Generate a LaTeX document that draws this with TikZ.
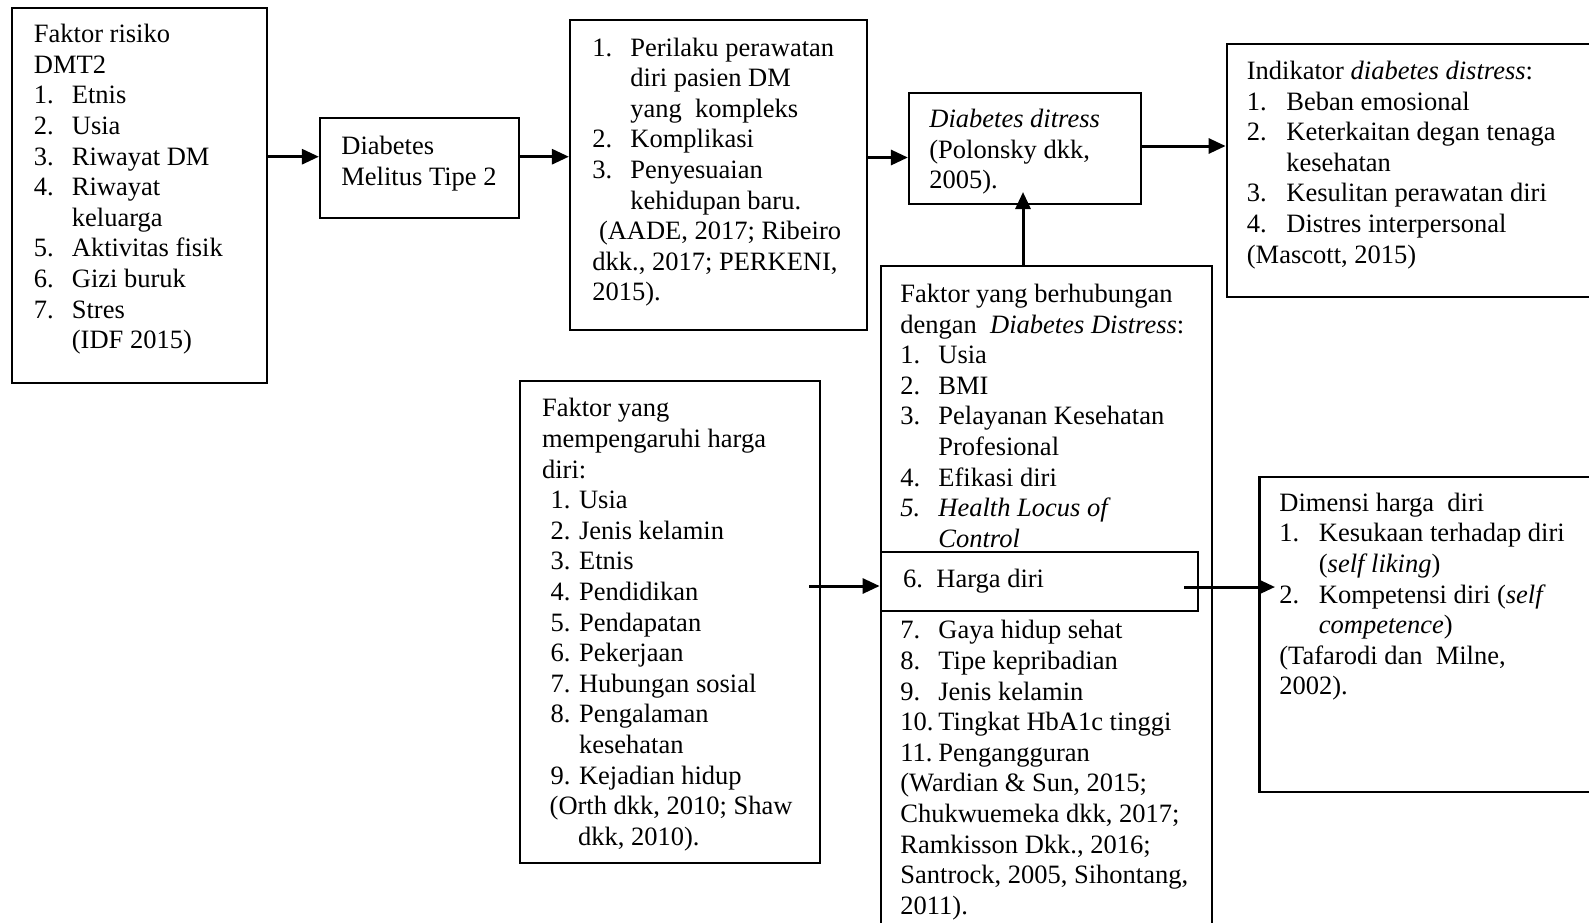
\documentclass[tikz,border=0pt]{standalone}
\usepackage{fontspec}
\setmainfont{Liberation Serif}
\usetikzlibrary{arrows.meta,fit}
\newcommand\bodyfont{\fontsize{13.25}{15.3}\selectfont}
\newcommand\itm[3][19pt]{\makebox[#1][l]{#2}#3}
\newcommand\itmcont[2][19pt]{\hspace*{#1}#2}
\tikzset{
	box/.style  = {shape=rectangle, draw, line width=1.1pt, inner sep=0pt},
	txt/.style  = {anchor=north west, inner sep=0pt, align=left, font=\bodyfont},
	link/.style = {draw, line width=1.5pt, -{Triangle[length=8.5pt,width=7.5pt]}}
}

\begin{document}
\begin{tikzpicture}[x=0.5pt, y=-0.5pt]
	\useasboundingbox (0,0) rectangle (1589,922);
	\clip (0,0) rectangle (1589,922);

	% the boxes
	\node [box, fit={(12,8) (267,383)}] (risk) {};
	\node [box, fit={(320,118) (519,218)}] (dm) {};
	\node [box, fit={(570,20) (867,330)}] (care) {};
	\node [box, fit={(909,92.7) (1141,204)}] (dd) {};
	\node [box, fit={(1226.7,44) (1620,296.7)}] (ind) {};
	\node [box, fit={(880.7,266) (1211.7,960)}] (rel) {};
	\node [box, fit={(880.7,552) (1198,611)}] (harga) {};
	\node [box, fit={(520,381) (820,863)}] (se) {};
	\node [box, fit={(1259.5,477) (1620,792)}] (dim) {};

	% the texts
	\node [txt] (riskText) at (33.5,24) {Faktor risiko\\DMT2\\
		\itm{1.}{Etnis}\\\itm{2.}{Usia}\\\itm{3.}{Riwayat DM}\\
		\itm{4.}{Riwayat}\\\itmcont{keluarga}\\\itm{5.}{Aktivitas fisik}\\
		\itm{6.}{Gizi buruk}\\\itm{7.}{Stres}\\\itmcont{(IDF 2015)}};
	\node [txt] (dmText) at (341,136) {Diabetes\\Melitus Tipe 2};
	\node [txt] (careText) at (592,37.4) {\itm{1.}{Perilaku perawatan}\\
		\itmcont{diri pasien DM}\\\itmcont{yang~~kompleks}\\
		\itm{2.}{Komplikasi}\\\itm{3.}{Penyesuaian}\\\itmcont{kehidupan baru.}\\
		\hspace*{3.3pt}(AADE, 2017; Ribeiro\\dkk., 2017; PERKENI,\\2015).};
	\node [txt] (ddText) at (929,109) {\textit{Diabetes ditress}\\(Polonsky dkk,\\2005).};
	\node [txt] (indText) at (1246.5,60.8) {Indikator \textit{diabetes distress}:\\
		\itm[19.75pt]{1.}{Beban emosional}\\
		\itm[19.75pt]{2.}{Keterkaitan degan tenaga}\\\itmcont[19.75pt]{kesehatan}\\
		\itm[19.75pt]{3.}{Kesulitan perawatan diri}\\
		\itm[19.75pt]{4.}{Distres interpersonal}\\(Mascott, 2015)};
	\node [txt] (relText) at (900,283.7) {Faktor yang berhubungan\\
		dengan~~\textit{Diabetes Distress}:\\
		\itm{1.}{Usia}\\\itm{2.}{BMI}\\\itm{3.}{Pelayanan Kesehatan}\\
		\itmcont{Profesional}\\\itm{4.}{Efikasi diri}\\
		\textit{\itm{5.}{Health Locus of}}\\\textit{\itmcont{Control}}};
	\node [txt] (hargaText) at (902.7,569) {\itm[16.65pt]{6.}{Harga diri}};
	\node [txt] (relMore) at (900,620) {\itm{7.}{Gaya hidup sehat}\\
		\itm{8.}{Tipe kepribadian}\\\itm{9.}{Jenis kelamin}\\
		\itm{10.}{Tingkat HbA1c tinggi}\\\itm{11.}{Pengangguran}\\
		(Wardian \& Sun, 2015;\\Chukwuemeka dkk, 2017;\\
		Ramkisson Dkk., 2016;\\Santrock, 2005, Sihontang,\\2011).};
	\node [txt] (seText) at (541.7,398) {Faktor yang\\mempengaruhi harga\\diri:\\
		\hspace*{4.3pt}\itm[14.2pt]{1.}{Usia}\\
		\hspace*{4.3pt}\itm[14.2pt]{2.}{Jenis kelamin}\\
		\hspace*{4.3pt}\itm[14.2pt]{3.}{Etnis}\\
		\hspace*{4.3pt}\itm[14.2pt]{4.}{Pendidikan}\\
		\hspace*{4.3pt}\itm[14.2pt]{5.}{Pendapatan}\\
		\hspace*{4.3pt}\itm[14.2pt]{6.}{Pekerjaan}\\
		\hspace*{4.3pt}\itm[14.2pt]{7.}{Hubungan sosial}\\
		\hspace*{4.3pt}\itm[14.2pt]{8.}{Pengalaman}\\
		\itmcont[18.5pt]{kesehatan}\\
		\hspace*{4.3pt}\itm[14.2pt]{9.}{Kejadian hidup}\\
		\hspace*{3.8pt}(Orth dkk, 2010; Shaw\\\itmcont[18pt]{dkk, 2010).}};
	\node [txt] (dimText) at (1279,492.4) {Dimensi harga~~diri\\
		\itm[19.75pt]{1.}{Kesukaan terhadap diri}\\
		\itmcont[19.75pt]{(\textit{self liking})}\\
		\itm[19.75pt]{2.}{Kompetensi diri (\textit{self}}\\
		\itmcont[19.75pt]{\textit{competence})}\\
		(Tafarodi dan~~Milne,\\2002).};

	% the arrows
	\coordinate (lvlA) at (0,156.7);
	\coordinate (lvlB) at (0,156.7);
	\coordinate (lvlC) at (0,157.5);
	\coordinate (lvlD) at (0,146);
	\draw [link] (risk.east |- lvlA) -- (dm.west |- lvlA);
	\draw [link] (dm.east |- lvlB) -- (care.west |- lvlB);
	\draw [link] (care.east |- lvlC) -- (dd.west |- lvlC);
	\draw [link] (dd.east |- lvlD) -- (ind.west |- lvlD);
	\coordinate (ddTip) at (1023,192);
	\draw [link] (rel.north -| ddTip) -- (ddTip);
	\coordinate (seOut) at (809,586);
	\draw [link] (seOut) -- (harga.west |- seOut);
	\coordinate (hargaOut) at (1184,587);
	\coordinate (dimTip) at (1275,587);
	\draw [link] (hargaOut) -- (dimTip);
\end{tikzpicture}
\end{document}
